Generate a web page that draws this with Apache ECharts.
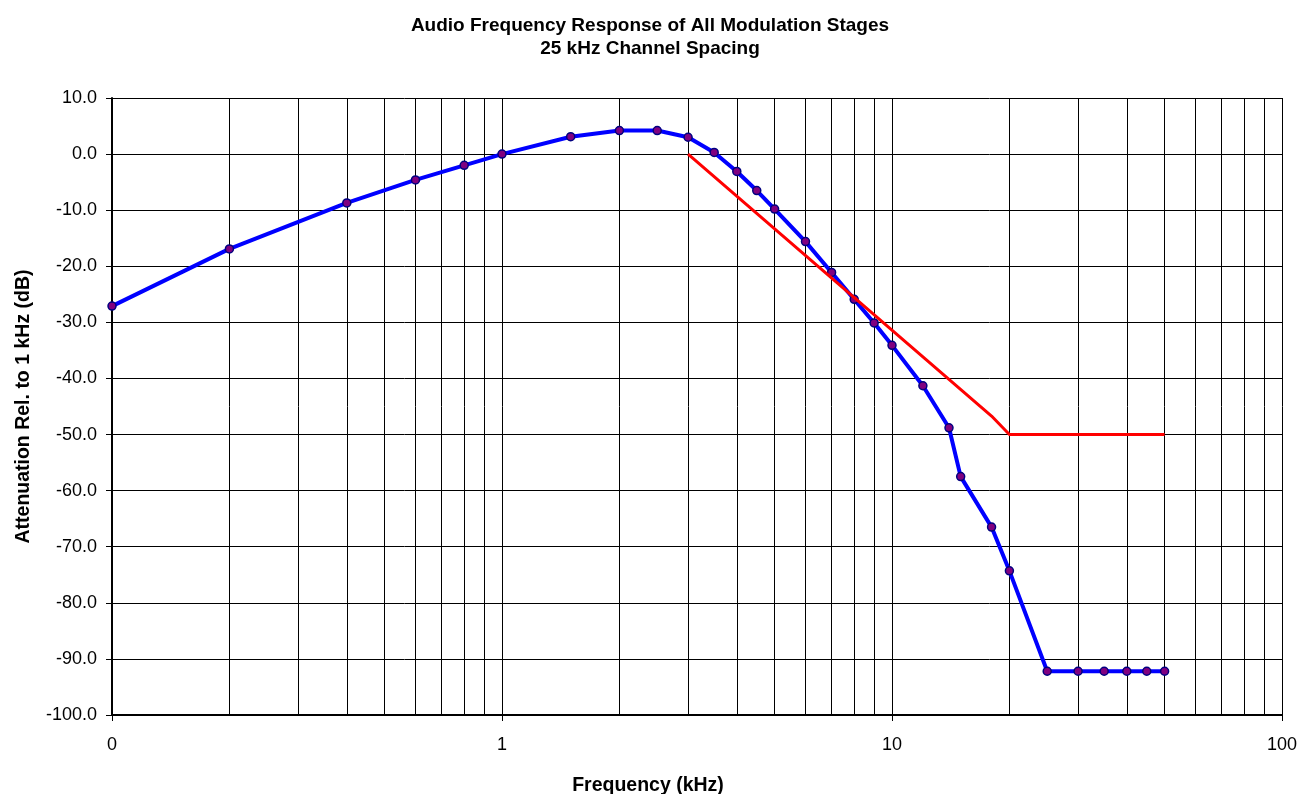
<!DOCTYPE html>
<html>
<head>
<meta charset="utf-8">
<title>Audio Frequency Response</title>
<script src="https://cdn.jsdelivr.net/npm/echarts@6/dist/echarts.min.js"></script>
<style>
  html, body { margin: 0; padding: 0; background: #fff; }
  #chart { width: 1301px; height: 794px; }
</style>
</head>
<body>
<div id="chart"></div>
<script>
// measured response (kHz / dB)
const freq = [0.1, 0.2, 0.4, 0.6, 0.8, 1, 1.5, 2, 2.5, 3, 3.5, 4, 4.5, 5, 6, 7, 8, 9, 10,
  12, 14, 15, 18, 20, 25, 30, 35, 40, 45, 50]
const response = [-27.1, -16.9, -8.7, -4.6, -2.0, 0, 3.1, 4.2, 4.2, 3.0, 0.3, -3.1, -6.5, -9.8,
  -15.6, -21.1, -25.9, -30.1, -34.1, -41.3, -48.8, -57.5, -66.5, -74.3, -92.2, -92.2, -92.2,
  -92.2, -92.2, -92.2]

// limit mask
const maskFreq = [3, 18, 20, 50]
const maskLevel = [0, -46.7, -50, -50]

// minor vertical grid lines of the log axis
const minorGrid = [0.2, 0.3, 0.4, 0.5, 0.6, 0.7, 0.8, 0.9,
  2, 3, 4, 5, 6, 7, 8, 9,
  20, 30, 40, 50, 60, 70, 80, 90]

const titleText = 'Audio Frequency Response of All Modulation Stages\n25 kHz Channel Spacing'
const xName = 'Frequency (kHz)'
const yName = 'Attenuation Rel. to 1 kHz (dB)'

const font = "'Liberation Sans', Arial, sans-serif"

const chart = echarts.init(document.getElementById('chart'))

const option = {
  animation: false,
  backgroundColor: '#fff',
  title: [
    {
      text: titleText,
      left: 645,
      top: 9,
      textAlign: 'center',
      textStyle: { fontFamily: font, fontSize: 19, fontWeight: 'bold', color: '#000', lineHeight: 23 }
    },
    {
      text: xName,
      left: 643,
      top: 771,
      textAlign: 'center',
      textStyle: { fontFamily: font, fontSize: 19.5, fontWeight: 'bold', color: '#000' }
    }
  ],
  grid: {
    left: 112,
    right: 19,
    top: 98,
    bottom: 79
  },
  xAxis: {
    type: 'log',
    logBase: 10,
    min: 0.1,
    max: 100,
    axisLine: { show: true, onZero: false, lineStyle: { color: '#000', width: 2 } },
    axisTick: { show: true, length: 6, lineStyle: { color: '#000' } },
    axisLabel: {
      margin: 21,
      color: '#000',
      fontFamily: font,
      fontSize: 18,
      formatter: v => v.toFixed(0)
    },
    splitLine: { show: true, lineStyle: { color: '#000', width: 1 } }
  },
  yAxis: {
    type: 'value',
    min: -100,
    max: 10,
    interval: 10,
    name: yName,
    nameLocation: 'middle',
    nameRotate: 90,
    nameGap: 78,
    nameTextStyle: { fontFamily: font, fontSize: 19.5, fontWeight: 'bold', color: '#000' },
    axisLine: { show: true, lineStyle: { color: '#000', width: 2 } },
    axisTick: { show: true, length: 6, lineStyle: { color: '#000' } },
    axisLabel: {
      margin: 15,
      color: '#000',
      fontFamily: font,
      fontSize: 18,
      formatter: v => v.toFixed(1)
    },
    splitLine: { show: true, lineStyle: { color: '#000', width: 1 } }
  },
  series: [
    {
      name: 'Response',
      type: 'line',
      data: freq.map((f, i) => [f, response[i]]),
      symbol: 'circle',
      symbolSize: 8,
      itemStyle: { color: '#800080', borderColor: '#000080', borderWidth: 1.5 },
      lineStyle: { color: '#0000ff', width: 4 },
      z: 3,
      markLine: {
        silent: true,
        symbol: 'none',
        label: { show: false },
        lineStyle: { color: '#000', width: 1, type: 'solid' },
        z: 1,
        data: minorGrid.map(v => ({ xAxis: v }))
      }
    },
    {
      name: 'Mask',
      type: 'line',
      data: maskFreq.map((f, i) => [f, maskLevel[i]]),
      showSymbol: false,
      symbol: 'none',
      lineStyle: { color: '#ff0000', width: 3 },
      z: 4
    }
  ]
}

chart.setOption(option)
</script>
</body>
</html>
